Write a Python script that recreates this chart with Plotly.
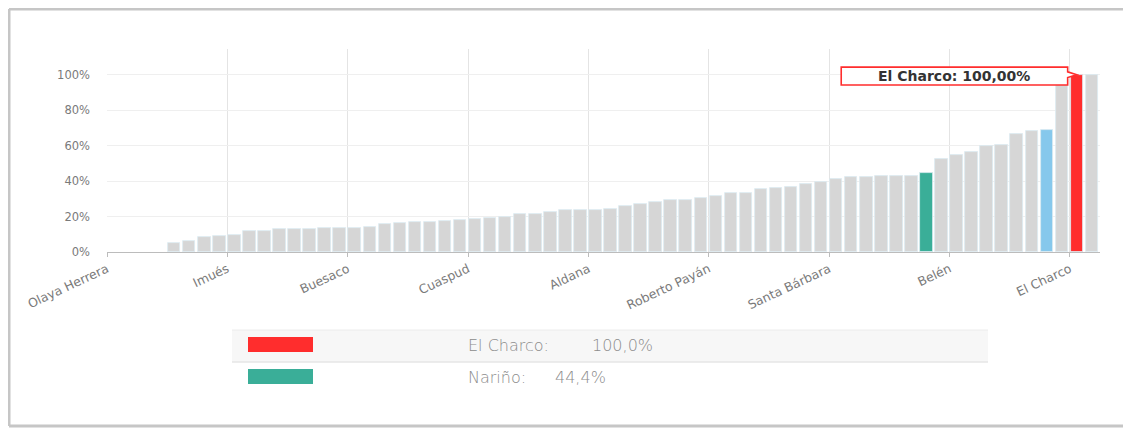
import plotly.graph_objects as go

# ---------------- data ----------------
municipios = [
    "Olaya Herrera", "La Tola", "Mosquera", "Magüí", "Francisco Pizarro", "Santacruz", "Barbacoas", "Cumbitara",
    "Imués", "Policarpa", "El Rosario", "Leiva", "Ricaurte", "Mallama", "Los Andes", "La Llanada",
    "Buesaco", "Taminango", "El Tablón de Gómez", "San Lorenzo", "Arboleda", "Albán", "Colón", "San Pablo",
    "Cuaspud", "Cumbal", "Guachucal", "Funes", "Iles", "Contadero", "Córdoba", "Potosí",
    "Aldana", "Puerres", "Gualmatán", "Pupiales", "Sapuyes", "Ospina", "Guaitarilla", "Túquerres",
    "Roberto Payán", "Samaniego", "Linares", "Ancuya", "Consacá", "Sandoná", "El Tambo", "El Peñol",
    "Santa Bárbara", "La Florida", "Yacuanquer", "Tangua", "Chachagüí", "Nariño (mpio.)", "Nariño", "La Cruz",
    "Belén", "San Bernardo", "San Pedro de Cartago", "La Unión", "Providencia", "Ipiales", "Colombia", "Tumaco",
    "El Charco", "Pasto",
]
valores = [
    0, 0, 0, 0, 5.1, 6.2, 8.5, 8.8,
    9.8, 12.0, 12.0, 12.8, 13.2, 13.2, 13.5, 13.5,
    13.5, 14.3, 16.0, 16.3, 16.7, 16.7, 17.5, 18.2,
    18.6, 19.2, 19.5, 21.4, 21.4, 22.3, 23.5, 23.5,
    23.9, 24.2, 26.1, 27.1, 28.2, 29.1, 29.1, 30.6,
    31.4, 33.1, 33.4, 35.5, 36.1, 36.7, 38.3, 39.3,
    41.2, 42.1, 42.5, 43.0, 43.0, 43.0, 44.4, 52.4,
    54.9, 56.2, 60.0, 60.5, 66.7, 68.2, 68.8, 100.0,
    100.0, 100.0,
]
etiquetas_x = ["Olaya Herrera", "Imués", "Buesaco", "Cuaspud", "Aldana",
               "Roberto Payán", "Santa Bárbara", "Belén", "El Charco"]
y_ticks = [0, 20, 40, 60, 80, 100]
destacado = "El Charco"
departamento = "Nariño"
referencia = "Colombia"
leyenda_nombres = ["El Charco", "Nariño"]
leyenda_valores = ["100,0%", "44,4%"]
tooltip_text = "El Charco: 100,00%"

# ---------------- styles ----------------
GRAY = "#d6d6d6"
RED = "#ff2d2d"
TEAL = "#3aae98"
BLUE = "#86c8ec"

colors = []
for m in municipios:
    if m == destacado:
        colors.append(RED)
    elif m == departamento:
        colors.append(TEAL)
    elif m == referencia:
        colors.append(BLUE)
    else:
        colors.append(GRAY)
line_w = [0 if v == 0 else 0.8 for v in valores]

# page body has an 8px margin -> work in screen pixels and convert
OFF = 8
W, H = 1131 - OFF, 430 - OFF
L, T = 107 - OFF, 49 - OFF
PR, PB = 1100 - OFF, 252 - OFF
R, B = W - PR, H - PB
PW, PH = PR - L, PB - T


def px(xs):
    return (xs - OFF - L) / PW


def py(ys):
    return (PB - (ys - OFF)) / PH


fig = go.Figure()
fig.add_trace(go.Bar(
    x=municipios, y=valores,
    marker=dict(color=colors, line=dict(color="#dcebf3", width=line_w)),
    width=0.83, offset=0.05,
    hoverinfo="x+y",
))

shapes = []
annotations = []

# outer frame (left, top, bottom edges)
frame = dict(color="#c6c6c6", width=3)
for (xa, ya, xb, yb) in [(9, 9, 9, 426), (9, 9, 1131, 9), (9, 426, 1131, 426)]:
    shapes.append(dict(type="line", xref="paper", yref="paper",
                       x0=px(xa), y0=py(ya), x1=px(xb), y1=py(yb),
                       line=frame, layer="below"))

# tooltip anchored to the highlighted bar
idx = municipios.index(destacado)
vmax = valores[idx]
bl, br = idx - 15.2, idx - 0.15
tip = idx + 0.45
top, bot = vmax + 4.3, vmax - 5.8
path = (f"M {bl},{top} L {br},{top} L {br},{vmax + 1.6} L {tip},{vmax} "
        f"L {br},{vmax - 1.6} L {br},{bot} L {bl},{bot} Z")
shapes.append(dict(type="path", xref="x", yref="y", path=path,
                   line=dict(color=RED, width=1.6), fillcolor="white", layer="above"))
annotations.append(dict(x=(bl + br) / 2, y=(top + bot) / 2, xref="x", yref="y",
                        text=f"<b>{tooltip_text}</b>", showarrow=False,
                        font=dict(family="DejaVu Sans", size=14, color="#333333")))

# legend table under the chart
row_tops = [330, 362]
row_h = 32
swatch_cols = [RED, TEAL]
value_x = [590, 553]
for i, (name, val) in enumerate(zip(leyenda_nombres, leyenda_valores)):
    y0 = row_tops[i]
    if i == 0:
        shapes.append(dict(type="rect", xref="paper", yref="paper",
                           x0=px(232), x1=px(988), y0=py(y0 + row_h), y1=py(y0),
                           line=dict(width=0), fillcolor="#f7f7f7"))
        shapes.append(dict(type="line", xref="paper", yref="paper",
                           x0=px(232), x1=px(988), y0=py(y0), y1=py(y0),
                           line=dict(color="#ececec", width=1)))
        shapes.append(dict(type="line", xref="paper", yref="paper",
                           x0=px(232), x1=px(988), y0=py(y0 + row_h), y1=py(y0 + row_h),
                           line=dict(color="#e6e6e6", width=1.5)))
    sw_top = y0 + 7
    shapes.append(dict(type="rect", xref="paper", yref="paper",
                       x0=px(248), x1=px(313), y0=py(sw_top + 15), y1=py(sw_top),
                       line=dict(width=0), fillcolor=swatch_cols[i]))
    lf = dict(family="DejaVu Sans", size=16, color="#8c8c8c", weight=200)
    annotations.append(dict(x=px(466), y=py(y0 + 15), xref="paper", yref="paper",
                            xanchor="left", yanchor="middle", showarrow=False,
                            text=f"{name}:", font=lf))
    annotations.append(dict(x=px(value_x[i]), y=py(y0 + 15), xref="paper", yref="paper",
                            xanchor="left", yanchor="middle", showarrow=False,
                            text=val, font=lf))

fig.update_layout(
    width=W, height=H,
    margin=dict(l=L, r=R, t=T, b=B),
    paper_bgcolor="white", plot_bgcolor="white",
    showlegend=False,
    bargap=0,
    font=dict(family="DejaVu Sans", color="#7a7a7a"),
    shapes=shapes,
    annotations=annotations,
    xaxis=dict(
        type="category",
        range=[0, len(municipios)],
        tickmode="array", tickvals=etiquetas_x, ticktext=etiquetas_x,
        tickangle=-25,
        tickfont=dict(family="DejaVu Sans", size=12.5, color="#7a7a7a"),
        showgrid=True, gridcolor="#e4e4e4", gridwidth=1,
        showline=True, linecolor="#bcbcbc", linewidth=1.2,
        ticks="outside", ticklen=4, tickcolor="#bcbcbc",
        automargin=False,
        fixedrange=True,
    ),
    yaxis=dict(
        range=[0, 114.5],
        tickvals=y_ticks, ticktext=[f"{v}%" for v in y_ticks],
        tickfont=dict(family="DejaVu Sans", size=11.5, color="#7a7a7a"),
        showgrid=True, gridcolor="#efefef", gridwidth=1,
        zeroline=False, showline=False, ticks="",
        ticklabelstandoff=16,
        automargin=False,
        fixedrange=True,
    ),
)

fig.write_html("out.html")
